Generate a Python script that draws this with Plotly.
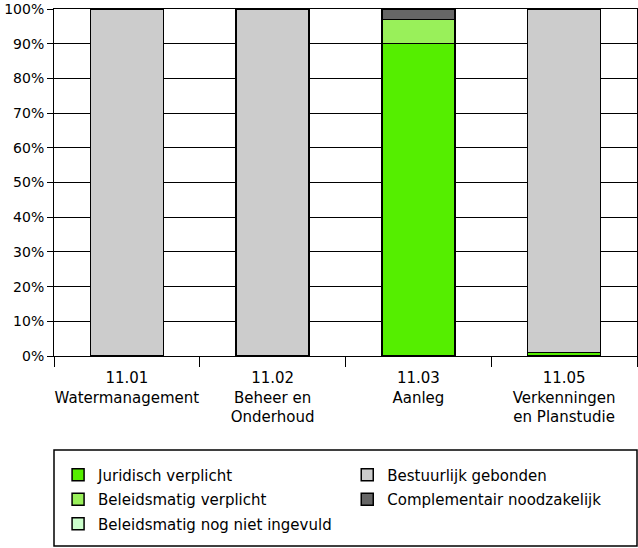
import plotly.graph_objects as go

categories = ["11.01<br>Watermanagement", "11.02<br>Beheer en<br>Onderhoud",
              "11.03<br>Aanleg", "11.05<br>Verkenningen<br>en Planstudie"]
series_names = ["Juridisch verplicht", "Beleidsmatig verplicht",
                "Beleidsmatig nog niet ingevuld", "Bestuurlijk gebonden",
                "Complementair noodzakelijk"]
juridisch = [0, 0, 90, 1]
beleid_verplicht = [0, 0, 7, 0]
beleid_nog_niet = [0, 0, 0, 0]
bestuurlijk = [100, 100, 0, 99]
complementair = [0, 0, 3, 0]
y_ticks = [0, 10, 20, 30, 40, 50, 60, 70, 80, 90, 100]
y_tick_labels = [f"{v}%" for v in y_ticks]

values = [juridisch, beleid_verplicht, beleid_nog_niet, bestuurlijk, complementair]
colors = ["#55EE00", "#99F05A", "#CCFFCC", "#CCCCCC", "#666666"]
legends = ["legend", "legend", "legend", "legend2", "legend2"]

FONT = "DejaVu Sans"

fig = go.Figure()
for i, (name, vals, col, lg) in enumerate(zip(series_names, values, colors, legends)):
    fig.add_trace(go.Bar(
        x=categories, y=vals, name=name,
        marker=dict(color=col, line=dict(color="black", width=1.5)),
        width=0.5, legend=lg, legendgroup=f"g{i}", legendrank=i,
    ))

# plot area: y from 8 to 356 px; legend box 450-546 px
fig.update_layout(
    width=638, height=548,
    barmode="stack",
    plot_bgcolor="white", paper_bgcolor="white",
    margin=dict(l=54, r=1, t=9, b=192, autoexpand=False),
    font=dict(family=FONT, size=15, color="black"),
    xaxis=dict(
        showline=True, linecolor="black", linewidth=1, mirror=True,
        ticks="outside", tickson="boundaries", ticklen=10, tickcolor="black",
        tickfont=dict(size=15), showgrid=False, tickangle=0,
        ticklabelstandoff=8, automargin=False,
    ),
    yaxis=dict(
        range=[0, 100], tickvals=y_ticks, ticktext=y_tick_labels,
        showline=True, linecolor="black", linewidth=1, mirror=True,
        ticks="outside", ticklen=6, tickcolor="black",
        showgrid=True, gridcolor="black", gridwidth=1,
        tickfont=dict(size=14), zeroline=False, ticklabeloverflow="allow",
        automargin=False,
    ),
    legend=dict(
        orientation="v", x=0.007, xanchor="left", y=-0.2955, yanchor="top",
        traceorder="grouped", tracegroupgap=2, bgcolor="rgba(0,0,0,0)",
        font=dict(size=15),
    ),
    legend2=dict(
        orientation="v", x=0.503, xanchor="left", y=-0.2955, yanchor="top",
        traceorder="grouped", tracegroupgap=2, bgcolor="rgba(0,0,0,0)",
        font=dict(size=15),
    ),
    shapes=[dict(type="rect", xref="paper", yref="paper",
                 x0=0, x1=1, y0=-(546 - 356) / 347, y1=-(450 - 356) / 347,
                 line=dict(color="black", width=1.5))],
)

fig.write_html("out.html")
